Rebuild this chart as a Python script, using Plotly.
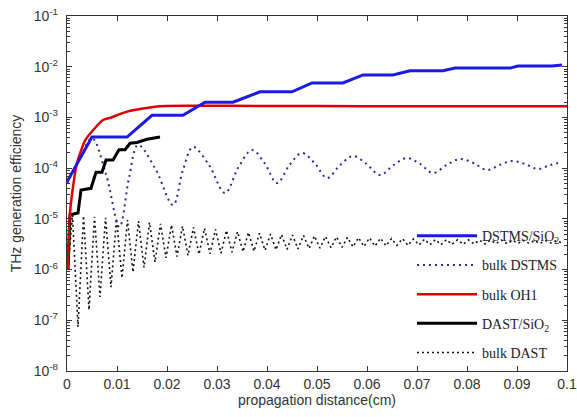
import plotly.graph_objects as go

# ---------------- data ----------------
# DSTMS/SiO2 (blue solid, staircase)
dstms_sio2_x = [0.0, 0.005, 0.012, 0.017, 0.0232, 0.0276, 0.0332, 0.0386, 0.045, 0.049,
                0.0552, 0.0592, 0.0652, 0.0686, 0.0752, 0.0776, 0.0886, 0.0902, 0.097, 0.0982, 0.099]
dstms_sio2_y = [5.4e-5, 4.1e-4, 4.1e-4, 1.1e-3, 1.1e-3, 2.0e-3, 2.0e-3, 3.2e-3, 3.2e-3, 4.8e-3,
                4.8e-3, 6.9e-3, 6.9e-3, 8.3e-3, 8.3e-3, 9.4e-3, 9.4e-3, 1.03e-2, 1.03e-2, 1.08e-2, 1.08e-2]

# bulk DSTMS (blue dotted, oscillating)
bulk_dstms_x = [0.0, 0.0025, 0.005, 0.0078, 0.0105, 0.0124, 0.0142, 0.0177, 0.0212, 0.0232,
                0.0252, 0.0284, 0.0316, 0.0343, 0.037, 0.0395, 0.042, 0.0445, 0.047, 0.0495,
                0.052, 0.0546, 0.0572, 0.0599, 0.0626, 0.0653, 0.068, 0.0706, 0.0732, 0.0759,
                0.0786, 0.0813, 0.084, 0.0865, 0.089, 0.0916, 0.0942, 0.0966, 0.099]
bulk_dstms_y = [5.0e-5, 1.5e-4, 3.9e-4, 7.6e-5, 6.9e-6, 6.4e-5, 2.86e-4, 9.6e-5, 1.87e-5, 9.2e-5,
                2.61e-4, 1.15e-4, 3.23e-5, 1.05e-4, 2.28e-4, 1.26e-4, 5.08e-5, 1.15e-4, 1.99e-4, 1.26e-4,
                6.38e-5, 1.15e-4, 1.73e-4, 1.21e-4, 7.3e-5, 1.15e-4, 1.58e-4, 1.21e-4, 8.0e-5, 1.15e-4,
                1.51e-4, 1.26e-4, 9.2e-5, 1.15e-4, 1.38e-4, 1.21e-4, 9.6e-5, 1.15e-4, 1.32e-4]

# bulk OH1 (red solid)
bulk_oh1_x = [0.0002, 0.0005, 0.0012, 0.002, 0.0036, 0.0052, 0.0072, 0.0086, 0.012, 0.0152,
              0.0186, 0.025, 0.04, 0.06, 0.08, 0.1]
bulk_oh1_y = [1.0e-6, 1.0e-5, 4.3e-5, 1.26e-4, 3.5e-4, 5.6e-4, 8.9e-4, 9.8e-4, 1.3e-3, 1.5e-3,
              1.67e-3, 1.7e-3, 1.68e-3, 1.67e-3, 1.66e-3, 1.66e-3]

# DAST/SiO2 (black solid, staircase)
dast_sio2_x = [0.0002, 0.0006, 0.0022, 0.0028, 0.0048, 0.0058, 0.007, 0.0078, 0.0092, 0.0104,
               0.0116, 0.0126, 0.014, 0.016, 0.0186]
dast_sio2_y = [1.0e-6, 1.2e-5, 1.3e-5, 3.7e-5, 4.0e-5, 8.3e-5, 8.3e-5, 1.45e-4, 1.45e-4, 2.3e-4,
               2.3e-4, 3.1e-4, 3.2e-4, 3.7e-4, 4.1e-4]

# bulk DAST (black dotted, fast oscillation): alternating peak / trough readings
bulk_dast_x = [0.0002,
               0.0011, 0.0022, 0.0033, 0.0044, 0.0055, 0.0066, 0.0077, 0.0088, 0.0099, 0.0110,
               0.0121, 0.0132, 0.0143, 0.0154, 0.0165, 0.0176, 0.0187, 0.0198, 0.0209, 0.0220,
               0.0231, 0.0242, 0.0253, 0.0264, 0.0275, 0.0286, 0.0297, 0.0308, 0.0319, 0.0330,
               0.0341, 0.0352, 0.0363, 0.0374, 0.0385, 0.0396, 0.0407, 0.0418, 0.0429, 0.0440,
               0.0451, 0.0462, 0.0473, 0.0484, 0.0495, 0.0506, 0.0517, 0.0528, 0.0539, 0.0550,
               0.0561, 0.0572, 0.0583, 0.0594, 0.0605, 0.0616, 0.0627, 0.0638, 0.0649, 0.0660,
               0.0671, 0.0682, 0.0693, 0.0704, 0.0715, 0.0726, 0.0737, 0.0748, 0.0759, 0.0770,
               0.0781, 0.0792, 0.0803, 0.0814, 0.0825, 0.0836, 0.0847, 0.0858, 0.0869, 0.0880,
               0.0891, 0.0902, 0.0913, 0.0924, 0.0935, 0.0946, 0.0957, 0.0968, 0.0979, 0.0990]
bulk_dast_y = [1.0e-6,
               1.2e-5, 7.4e-8, 1.15e-5, 1.6e-7, 1.1e-5, 2.9e-7, 1.05e-5, 4.5e-7, 1.0e-5, 6.8e-7,
               9.5e-6, 8.9e-7, 9.0e-6, 1.1e-6, 8.5e-6, 1.4e-6, 8.0e-6, 1.7e-6, 7.6e-6, 1.8e-6,
               7.2e-6, 1.9e-6, 6.8e-6, 2.0e-6, 6.5e-6, 2.05e-6, 6.2e-6, 2.1e-6, 5.9e-6, 2.2e-6,
               5.6e-6, 2.25e-6, 5.4e-6, 2.3e-6, 5.2e-6, 2.4e-6, 5.0e-6, 2.45e-6, 4.9e-6, 2.5e-6,
               4.8e-6, 2.55e-6, 4.7e-6, 2.6e-6, 4.6e-6, 2.65e-6, 4.5e-6, 2.7e-6, 4.4e-6, 2.75e-6,
               4.3e-6, 2.8e-6, 4.25e-6, 2.85e-6, 4.2e-6, 2.9e-6, 4.15e-6, 2.95e-6, 4.1e-6, 3.0e-6,
               4.05e-6, 3.0e-6, 4.0e-6, 3.05e-6, 3.95e-6, 3.1e-6, 3.9e-6, 3.1e-6, 3.9e-6, 3.15e-6,
               3.85e-6, 3.15e-6, 3.85e-6, 3.2e-6, 3.8e-6, 3.2e-6, 3.8e-6, 3.25e-6, 3.8e-6, 3.25e-6,
               3.75e-6, 3.3e-6, 3.75e-6, 3.3e-6, 3.75e-6, 3.3e-6, 3.7e-6, 3.35e-6, 3.7e-6, 3.35e-6]

x_ticks = [0, 0.01, 0.02, 0.03, 0.04, 0.05, 0.06, 0.07, 0.08, 0.09, 0.1]
x_ticklabels = ["0", "0.01", "0.02", "0.03", "0.04", "0.05", "0.06", "0.07", "0.08", "0.09", "0.1"]
y_exponents = [-8, -7, -6, -5, -4, -3, -2, -1]
y_ticks = [10.0 ** e for e in y_exponents]
y_ticklabels = ["10<sup>%d</sup>" % e for e in y_exponents]
y_minor = [m * 10.0 ** e for e in y_exponents[:-1] for m in range(2, 10)]

# ---------------- figure ----------------
fig = go.Figure()

fig.add_trace(go.Scatter(x=bulk_dast_x, y=bulk_dast_y, mode="lines", name="bulk DAST",
                         line=dict(color="#111111", width=1.6, dash="2px,3px"),
                         legendrank=5, legendgroup="e"))
fig.add_trace(go.Scatter(x=bulk_dstms_x, y=bulk_dstms_y, mode="lines", name="bulk DSTMS",
                         line=dict(color="#2a2a9c", width=2, dash="2px,4px", shape="spline", smoothing=1.0),
                         legendrank=2, legendgroup="b"))
fig.add_trace(go.Scatter(x=dast_sio2_x, y=dast_sio2_y, mode="lines", name="DAST/SiO<sub>2</sub>",
                         line=dict(color="black", width=3),
                         legendrank=4, legendgroup="d"))
fig.add_trace(go.Scatter(x=bulk_oh1_x, y=bulk_oh1_y, mode="lines", name="bulk OH1",
                         line=dict(color="#e00000", width=2.5, shape="spline", smoothing=0.6),
                         legendrank=3, legendgroup="c"))
fig.add_trace(go.Scatter(x=dstms_sio2_x, y=dstms_sio2_y, mode="lines", name="DSTMS/SiO<sub>2</sub>",
                         line=dict(color="#1a1ae6", width=3),
                         legendrank=1, legendgroup="a"))

axis_font = dict(family="Liberation Sans, Arial, sans-serif", size=14, color="#333333")

fig.update_layout(
    width=577, height=417,
    margin=dict(l=67, r=10, t=16, b=46),
    paper_bgcolor="white", plot_bgcolor="white",
    showlegend=True,
    legend=dict(x=0.69, y=0.425, xanchor="left", yanchor="top",
                bgcolor="rgba(0,0,0,0)", borderwidth=0,
                font=dict(family="Liberation Serif, Times New Roman, serif", size=14, color="#222222"),
                tracegroupgap=8, itemwidth=60),
)

fig.update_xaxes(
    range=[0, 0.1], tickvals=x_ticks, ticktext=x_ticklabels,
    ticks="inside", ticklen=5, tickcolor="#333333",
    showline=True, linecolor="#333333", linewidth=1.3, mirror="ticks",
    showgrid=False, zeroline=False, automargin=False,
    tickfont=axis_font,
    title=dict(text="propagation distance(cm)", font=axis_font, standoff=2),
)
fig.update_yaxes(
    type="log", range=[-8, -1], tickvals=y_ticks, ticktext=y_ticklabels,
    ticks="inside", ticklen=5, tickcolor="#333333", ticklabelstandoff=5,
    minor=dict(tickvals=y_minor, ticks="inside", ticklen=3, tickcolor="#333333", showgrid=False),
    showline=True, linecolor="#333333", linewidth=1.3, mirror="ticks",
    showgrid=False, zeroline=False, automargin=False,
    tickfont=axis_font,
    title=dict(text="THz generation efficiency", font=axis_font, standoff=8),
)

fig.write_html("out.html", config={"displayModeBar": False},
               post_script="document.body.style.margin='0';")
